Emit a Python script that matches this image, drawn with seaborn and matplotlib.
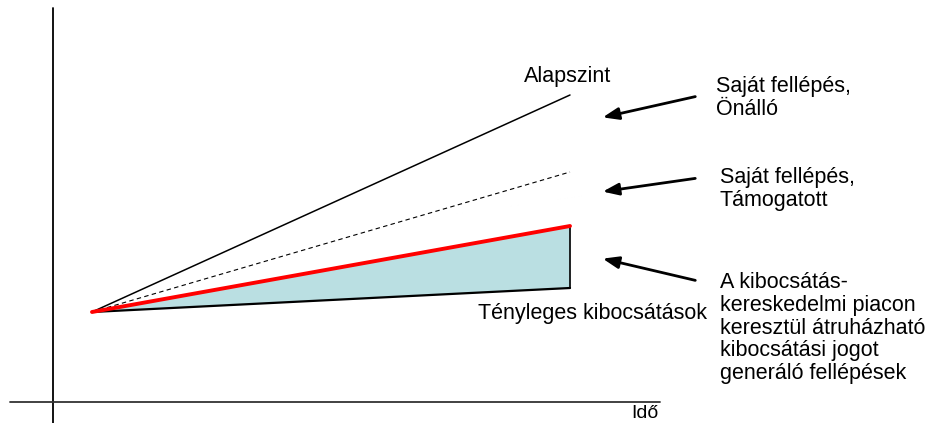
import numpy as np
import pandas as pd
import matplotlib
matplotlib.use("Agg")
import matplotlib.pyplot as plt
import seaborn as sns

# ── Data (schematic units: time → right, emissions → up) ─────────────────────
time = [39, 517]
alapszint = [90, 307]          # baseline
tamogatott = [90, 230]         # own action, supported (dashed)
atruhazhato = [90, 176]        # tradable (red upper edge of filled band)
tenyleges = [90, 114]          # actual emissions

label_baseline = "Alapszint"
label_actual = "Tényleges kibocsátások"
label_onallo = "Saját fellépés,\nÖnálló"
label_tamogatott = "Saját fellépés,\nTámogatott"
label_trade = ("A kibocsátás-\nkereskedelmi piacon\nkeresztül átruházható\n"
               "kibocsátási jogot\ngeneráló fellépések")
label_x = "Idő"

sns.set_theme(style="white")
plt.rcParams["font.family"] = ["Liberation Sans", "DejaVu Sans"]
plt.rcParams["text.color"] = "black"

df = pd.DataFrame({"t": time, "base": alapszint, "sup": tamogatott,
                   "trade": atruhazhato, "act": tenyleges})

fig = plt.figure(figsize=(9.25, 4.23), dpi=100)
ax = fig.add_axes([0, 0, 1, 1])
ax.set_xlim(-53, 872)
ax.set_ylim(-21, 402)
ax.axis("off")

# axes of the schematic
ax.plot([0, 0], [-21, 394], color="black", lw=1.3)
ax.plot([-43, 607], [0, 0], color="#333333", lw=1.3)

# filled band between actual emissions and tradable line
ax.fill_between(df["t"], df["act"], df["trade"], color="#badfe2", lw=0)
ax.plot([time[1], time[1]], [tenyleges[1], atruhazhato[1]], color="black", lw=1.2)

sns.lineplot(data=df, x="t", y="base", ax=ax, color="black", lw=1.1)
sns.lineplot(data=df, x="t", y="sup", ax=ax, color="black", lw=0.8,
             linestyle=(0, (4, 3)))
sns.lineplot(data=df, x="t", y="act", ax=ax, color="black", lw=1.6)
sns.lineplot(data=df, x="t", y="trade", ax=ax, color="#ff0000", lw=2.8)
ax.set_xlabel(""); ax.set_ylabel("")

fs = 15.5
ls = 1.1
ax.text(471, 326, label_baseline, fontsize=fs, ha="left", va="center")
ax.text(425, 89, label_actual, fontsize=fs, ha="left", va="center")
ax.text(663, 304, label_onallo, fontsize=fs, ha="left", va="center",
        linespacing=ls)
ax.text(667, 213, label_tamogatott, fontsize=fs, ha="left", va="center",
        linespacing=ls)
ax.text(667, 74, label_trade, fontsize=fs, ha="left", va="center",
        linespacing=ls)
ax.text(578, -16, label_x, fontsize=14, ha="left", va="baseline")

arrow = dict(arrowstyle="-|>,head_length=0.8,head_width=0.3",
             color="black", lw=2)
ax.annotate("", xy=(547, 284), xytext=(645, 306), arrowprops=arrow)
ax.annotate("", xy=(547, 210), xytext=(645, 224), arrowprops=arrow)
ax.annotate("", xy=(547, 144), xytext=(645, 121), arrowprops=arrow)

fig.savefig("out.png", dpi=100)
